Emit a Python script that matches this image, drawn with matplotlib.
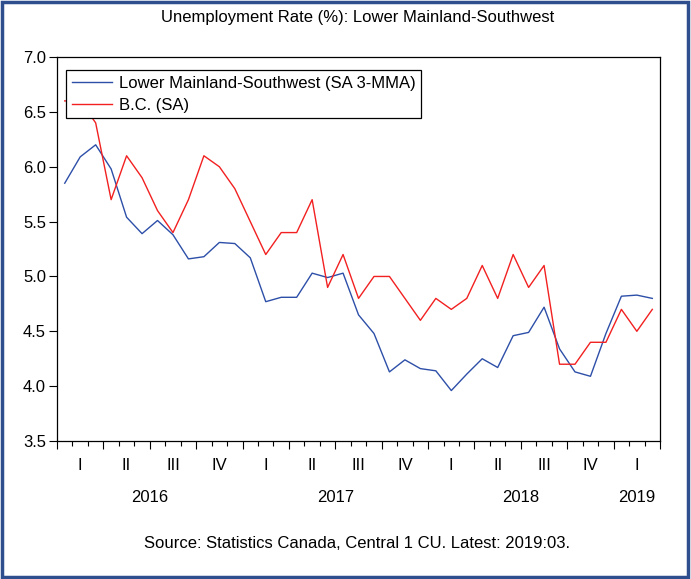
import matplotlib
matplotlib.use("Agg")
import matplotlib.pyplot as plt
from matplotlib.patches import Rectangle
import numpy as np

plt.rcParams['font.family'] = ['Liberation Sans', 'DejaVu Sans']

# monthly data 2016:01 - 2019:03
lmsw = [5.85, 6.09, 6.20, 5.98, 5.54, 5.39, 5.51, 5.38, 5.16, 5.18, 5.31, 5.30,
        5.17, 4.77, 4.81, 4.81, 5.03, 4.99, 5.03, 4.65, 4.48, 4.13, 4.24, 4.16,
        4.14, 3.96, 4.11, 4.25, 4.17, 4.46, 4.49, 4.72, 4.34, 4.13, 4.09, 4.48,
        4.82, 4.83, 4.80]
bc = [6.6, 6.6, 6.4, 5.7, 6.1, 5.9, 5.6, 5.4, 5.7, 6.1, 6.0, 5.8,
      5.5, 5.2, 5.4, 5.4, 5.7, 4.9, 5.2, 4.8, 5.0, 5.0, 4.8, 4.6,
      4.8, 4.7, 4.8, 5.1, 4.8, 5.2, 4.9, 5.1, 4.2, 4.2, 4.4, 4.4,
      4.7, 4.5, 4.7]
quarters = ["I", "II", "III", "IV"] * 3 + ["I"]
years = ["2016", "2017", "2018", "2019"]
year_months = [12, 12, 12, 3]

n = len(lmsw)
x = np.arange(n) + 0.5
fs = 12

fig = plt.figure(figsize=(6.91, 5.79), dpi=100)
ax = fig.add_axes([0.0825, 0.2383, 0.8727, 0.6632])

ax.plot(x, lmsw, color='#2D4FA8', lw=1.0, label="Lower Mainland-Southwest (SA 3-MMA)")
ax.plot(x, bc, color='#F22020', lw=1.0, label="B.C. (SA)")

ax.set_xlim(0, n)
ax.set_ylim(3.5, 7.0)
ax.set_yticks(np.arange(3.5, 7.01, 0.5))
ax.set_yticklabels([f"{v:.1f}" for v in np.arange(3.5, 7.01, 0.5)])
ax.set_xticks(np.arange(0, n + 1, 3))
ax.set_xticks(np.arange(0, n + 1, 1), minor=True)
ax.set_xticklabels([])
ax.tick_params(axis='x', which='major', length=6, width=0.8, direction='out')
ax.tick_params(axis='x', which='minor', length=3.5, width=0.8, direction='out')
ax.tick_params(axis='y', length=6, width=0.8, labelsize=fs, pad=2)
for s in ax.spines.values():
    s.set_linewidth(0.9)

# quarter and year labels
tr = ax.get_xaxis_transform()
for i, q in enumerate(quarters):
    ax.text(i * 3 + 1.5, -0.063, q, transform=tr, ha='center', va='center', fontsize=fs)
start = 0
for yr, m in zip(years, year_months):
    ax.text(start + m / 2, -0.146, yr, transform=tr, ha='center', va='center', fontsize=fs)
    start += m

leg = ax.legend(loc='upper left', bbox_to_anchor=(0.015, 0.966), fontsize=fs,
                frameon=True, fancybox=False, handlelength=2.4, handletextpad=0.4,
                borderpad=0.35, labelspacing=0.4, borderaxespad=0)
leg.get_frame().set_edgecolor('black')
leg.get_frame().set_linewidth(0.9)
leg.get_frame().set_alpha(1)

fig.text(0.517, 0.969, "Unemployment Rate (%): Lower Mainland-Southwest",
         ha='center', va='center', fontsize=fs)
fig.text(0.516, 0.062, "Source: Statistics Canada, Central 1 CU. Latest: 2019:03.",
         ha='center', va='center', fontsize=fs)

fig.patches.append(Rectangle((0.003, 0.004), 0.993, 0.992, transform=fig.transFigure,
                             fill=False, edgecolor='#2E4E8E', lw=2.5))

fig.savefig("out.png", dpi=100)
